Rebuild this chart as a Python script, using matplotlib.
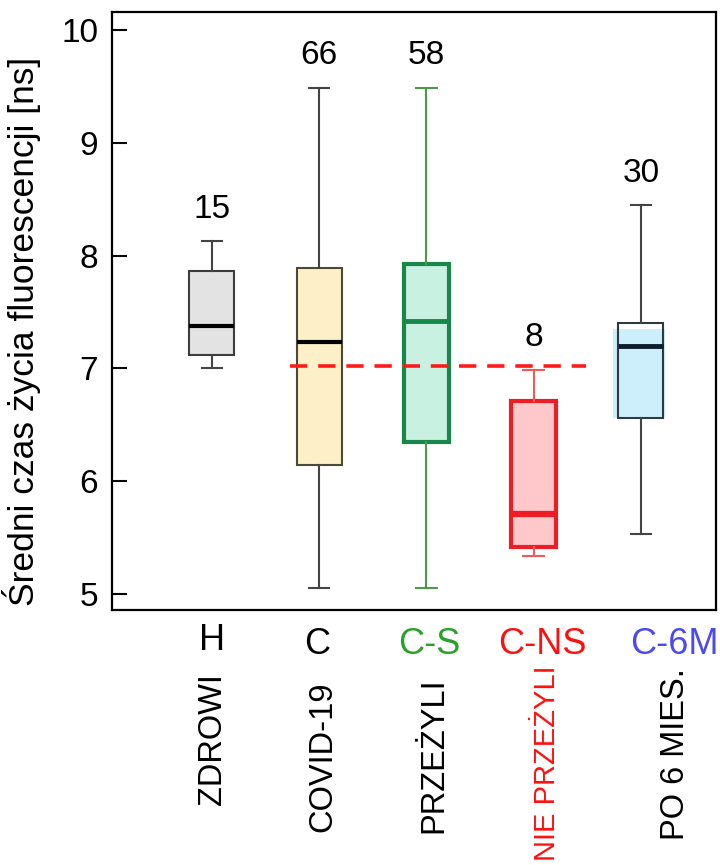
import matplotlib
matplotlib.use('Agg')
import matplotlib.pyplot as plt
from matplotlib.patches import Rectangle

plt.rcParams['font.family'] = ['Liberation Sans', 'DejaVu Sans']

# grupy pacjentów
groups = ['H', 'C', 'C-S', 'C-NS', 'C-6M']
names = ['ZDROWI', 'COVID-19', 'PRZEŻYLI', 'NIE PRZEŻYLI', 'PO 6 MIES.']
counts = [15, 66, 58, 8, 30]

# statystyki pudełek [ns]
whis_lo = [7.00, 5.05, 5.05, 5.34, 5.53]
q1 = [7.12, 6.14, 6.35, 5.42, 6.56]
med = [7.38, 7.23, 7.42, 5.71, 7.20]
q3 = [7.86, 7.89, 7.93, 6.71, 7.40]
whis_hi = [8.13, 9.49, 9.49, 6.99, 8.45]
ref_level = 7.02

# style
face = ['#e3e3e3', '#fdf0c8', '#c9f1e1', '#ffc9cc', 'none']
edge = ['#3c3c3c', '#4e4838', '#17884a', '#ee1c24', '#2e3a40']
edge_lw = [1.5, 1.5, 3.0, 3.0, 1.5]
whisk_col = ['#444444', '#444444', '#4a9a4a', '#ef5a5a', '#444444']
med_col = ['#000000', '#000000', '#17884a', '#ee1c24', '#0d1e2c']
med_lw = [3.0, 3.0, 3.5, 4.5, 3.5]
label_col = ['black', 'black', '#2aa02a', '#ff1010', '#4a4aee']
name_col = ['black', 'black', 'black', '#ff1010', 'black']
name_size = [23.5, 23.5, 23.5, 21, 23.5]

W, H = 720, 865
fig = plt.figure(figsize=(W / 100, H / 100), dpi=100)
ax = fig.add_axes([112 / W, 1 - 610 / H, (716 - 112) / W, (610 - 12) / H])

positions = list(range(1, len(groups) + 1))
for i, p in enumerate(positions):
    st = dict(whislo=whis_lo[i], q1=q1[i], med=med[i], q3=q3[i],
              whishi=whis_hi[i], fliers=[], label=groups[i])
    ax.bxp([st], positions=[p], widths=0.42, capwidths=0.19,
           patch_artist=True, showfliers=False,
           boxprops=dict(facecolor=face[i], edgecolor=edge[i], linewidth=edge_lw[i]),
           medianprops=dict(color=med_col[i], linewidth=med_lw[i], solid_capstyle='butt'),
           whiskerprops=dict(color=whisk_col[i], linewidth=1.5),
           capprops=dict(color=whisk_col[i], linewidth=1.5))
    ax.text(p, whis_hi[i] + 0.28, str(counts[i]), ha='center', va='center',
            fontsize=24)

# niebieskie wypełnienie ostatniej grupy lekko przesunięte względem ramki
ax.add_patch(Rectangle((positions[4] - 0.26, q1[4]), 0.48, q3[4] - 0.05 - q1[4],
                       facecolor='#cdeefb', edgecolor='none', zorder=1.5))

# poziom odniesienia
ax.hlines(ref_level, 1.73, 4.49, colors='#ff1a1a', linewidth=2.6,
          linestyles=(0, (4.8, 3.0)), zorder=5)

ax.set_xlim(0.068, 5.70)
ax.set_ylim(4.858, 10.16)
ax.set_xticks([])
ax.set_yticks([5, 6, 7, 8, 9, 10])
ax.tick_params(axis='y', direction='in', length=11, width=1.5,
               labelsize=24, pad=10)
for s in ax.spines.values():
    s.set_linewidth(1.6)

ax.set_ylabel('Średni czas życia fluorescencji [ns]', fontsize=25.5)
ax.yaxis.set_label_coords(-0.117, 0.465)

# podpisy grup pod osią
grp_x = [212, 317, 429, 542, 674]
grp_y = [640, 645, 645, 645, 645]
name_x = [212, 323, 434, 547, 675]
name_top = [673, 682, 677, 665, 668]
for i in range(len(groups)):
    fig.text(grp_x[i] / W, 1 - grp_y[i] / H, groups[i], ha='center',
             va='center', fontsize=26, color=label_col[i])
    fig.text(name_x[i] / W, 1 - name_top[i] / H, names[i], ha='center',
             va='top', rotation=90, fontsize=name_size[i], color=name_col[i])

fig.savefig('out.png', dpi=100)
